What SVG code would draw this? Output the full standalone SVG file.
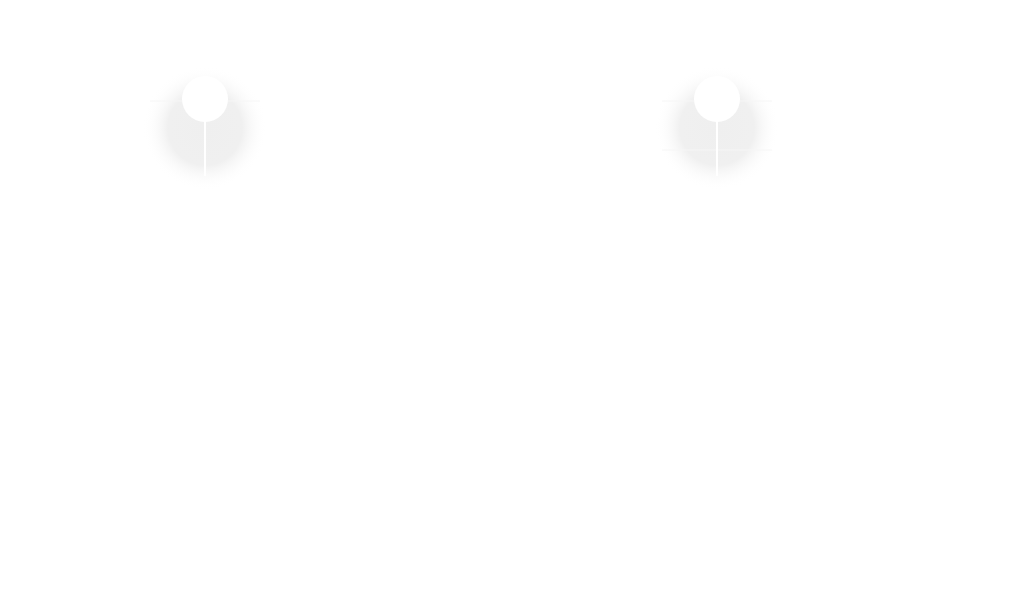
<svg xmlns="http://www.w3.org/2000/svg" width="1024" height="600" viewBox="0 0 1024 600">
<defs>
<radialGradient id="g"><stop offset="0" stop-color="#efefef"/><stop offset="0.6" stop-color="#f0f0f0"/><stop offset="1" stop-color="#fff" stop-opacity="0"/></radialGradient>
<style>.k{fill:#fff}.l{stroke:#fff;stroke-width:2}.h{stroke:#f6f6f6;stroke-width:1}</style>
</defs>
<rect width="1024" height="600" fill="#fff"/>
<g id="node1">
<circle cx="205" cy="128" r="62" fill="url(#g)"/>
<line class="h" x1="150" y1="101" x2="260" y2="101"/>
<circle class="k" cx="205" cy="99" r="23"/>
<line class="l" x1="205" y1="120" x2="205" y2="176"/>
</g>
<g id="node2">
<circle cx="717" cy="128" r="62" fill="url(#g)"/>
<line class="h" x1="662" y1="101" x2="772" y2="101"/>
<line class="h" x1="662" y1="150" x2="772" y2="150"/>
<circle class="k" cx="717" cy="99" r="23"/>
<line class="l" x1="717" y1="120" x2="717" y2="176"/>
</g>
<g id="connectors"/>
</svg>
